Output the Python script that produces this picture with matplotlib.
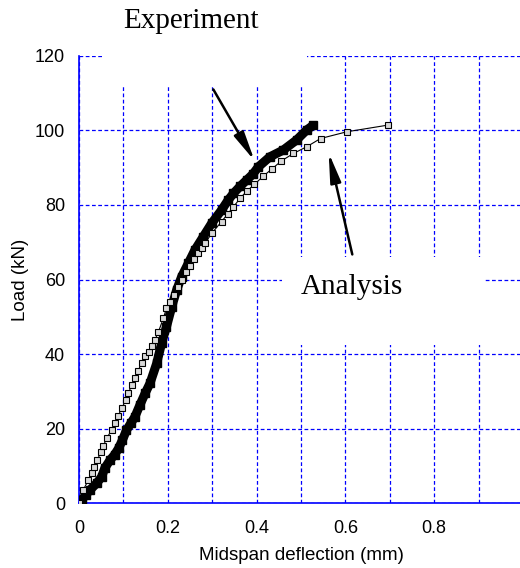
import matplotlib.pyplot as plt
from matplotlib.patches import Rectangle

# experiment (thick black band)
exp_x = [0, 0.006, 0.015, 0.025, 0.04, 0.051, 0.058, 0.07, 0.08, 0.089, 0.098,
         0.107, 0.117, 0.126, 0.137, 0.149, 0.16, 0.175, 0.186, 0.197, 0.209,
         0.22, 0.231, 0.246, 0.261, 0.28, 0.299, 0.321, 0.336, 0.348, 0.363,
         0.378, 0.392, 0.404, 0.43, 0.46, 0.49, 0.513, 0.528]
exp_y = [0, 0.9, 2.2, 3.6, 5.4, 7.1, 9.4, 11.6, 13.0, 14.7, 17.0,
         19.6, 21.5, 23.2, 26.3, 29.5, 32.2, 37.5, 42.9, 47.3, 52.7,
         57.2, 60.7, 64.3, 67.9, 71.5, 75.1, 78.6, 81.3, 83.1, 85.0,
         86.7, 88.3, 90.2, 92.9, 94.7, 97.4, 100.1, 101.4]

# analysis (open squares)
ana_x = [0, 0.0097, 0.021, 0.0285, 0.0345, 0.0413, 0.049, 0.055, 0.062, 0.0736,
         0.081, 0.0886, 0.096, 0.106, 0.111, 0.119, 0.126, 0.133, 0.141, 0.149,
         0.157, 0.164, 0.171, 0.179, 0.19, 0.197, 0.205, 0.213, 0.222, 0.231,
         0.24, 0.25, 0.259, 0.268, 0.276, 0.284, 0.299, 0.321, 0.335, 0.348,
         0.363, 0.378, 0.395, 0.415, 0.434, 0.456, 0.483, 0.513, 0.544, 0.603, 0.696]
ana_y = [0, 3.6, 6.2, 8.0, 9.7, 11.6, 13.7, 15.4, 17.4, 19.6,
         21.4, 23.5, 25.5, 27.7, 29.5, 31.7, 33.6, 35.5, 37.6, 39.6,
         40.5, 42.2, 43.8, 46.0, 49.6, 52.3, 54.0, 55.9, 58.0, 60.0,
         61.9, 63.7, 65.4, 67.0, 68.4, 69.7, 72.4, 75.5, 77.6, 79.5,
         81.8, 83.7, 85.5, 87.7, 89.6, 91.8, 93.8, 95.6, 97.8, 99.6, 101.4]

x_ticks = [0, 0.2, 0.4, 0.6, 0.8]
x_minor = [0.1, 0.3, 0.5, 0.7, 0.9]
y_ticks = [0, 20, 40, 60, 80, 100, 120]

plt.rcParams['font.family'] = ['Liberation Sans', 'DejaVu Sans']

fig = plt.figure(figsize=(5.2, 5.68), dpi=100)
ax = fig.add_axes([0.1519, 0.1139, 0.8538, 0.788])
ax.set_xlim(0, 1.0)
ax.set_ylim(0, 120)
ax.set_axisbelow(True)

ax.set_xticks(x_ticks)
ax.set_xticklabels(['0', '0.2', '0.4', '0.6', '0.8'])
ax.set_xticks(x_minor, minor=True)
ax.set_yticks(y_ticks)
ax.tick_params(which='both', length=0, labelsize=13)
ax.tick_params(axis='x', pad=12)
ax.tick_params(axis='y', pad=10)

ax.grid(True, which='both', color='#0000ff', linestyle=(0, (3, 2)), linewidth=0.9)
for s in ['top', 'right']:
    ax.spines[s].set_visible(False)
for s in ['left', 'bottom']:
    ax.spines[s].set_color('#0000ff')
    ax.spines[s].set_linewidth(1.2)

# white boxes behind the text labels
ax.add_patch(Rectangle((0.054, 111.6), 0.46, 20, facecolor='white',
                       edgecolor='none', zorder=1, clip_on=False))
ax.add_patch(Rectangle((0.457, 42.5), 0.457, 23.5, facecolor='white',
                       edgecolor='none', zorder=1))

ax.plot(exp_x, exp_y, color='black', linewidth=6.5, marker='s', markersize=6,
        solid_capstyle='butt', zorder=3)
ax.plot(ana_x, ana_y, color='black', linewidth=0.8, marker='s', markersize=4.5,
        markerfacecolor='#d8d8d8', markeredgecolor='black', markeredgewidth=0.8,
        zorder=4)

ax.annotate('', xy=(0.3986, 91.2), xytext=(0.2995, 111.6),
            arrowprops=dict(arrowstyle='-|>,head_length=1.1,head_width=0.2',
                            color='black', lw=1.8, mutation_scale=16), zorder=5)
ax.annotate('', xy=(0.561, 94.7), xytext=(0.617, 66.0),
            arrowprops=dict(arrowstyle='-|>,head_length=1.1,head_width=0.2',
                            color='black', lw=1.8, mutation_scale=16), zorder=5)

fig.text(191 / 520, 1 - 21 / 568, 'Experiment', family='Liberation Serif',
         fontsize=21, ha='center', va='center')
ax.text(0.615, 58.0, 'Analysis', family='Liberation Serif',
        fontsize=21, ha='center', va='center', zorder=6)

ax.set_xlabel('Midspan deflection (mm)', fontsize=13.5, labelpad=7)
ax.set_ylabel('Load (kN)', fontsize=13.5, labelpad=4)

fig.savefig('out.png', dpi=100)
